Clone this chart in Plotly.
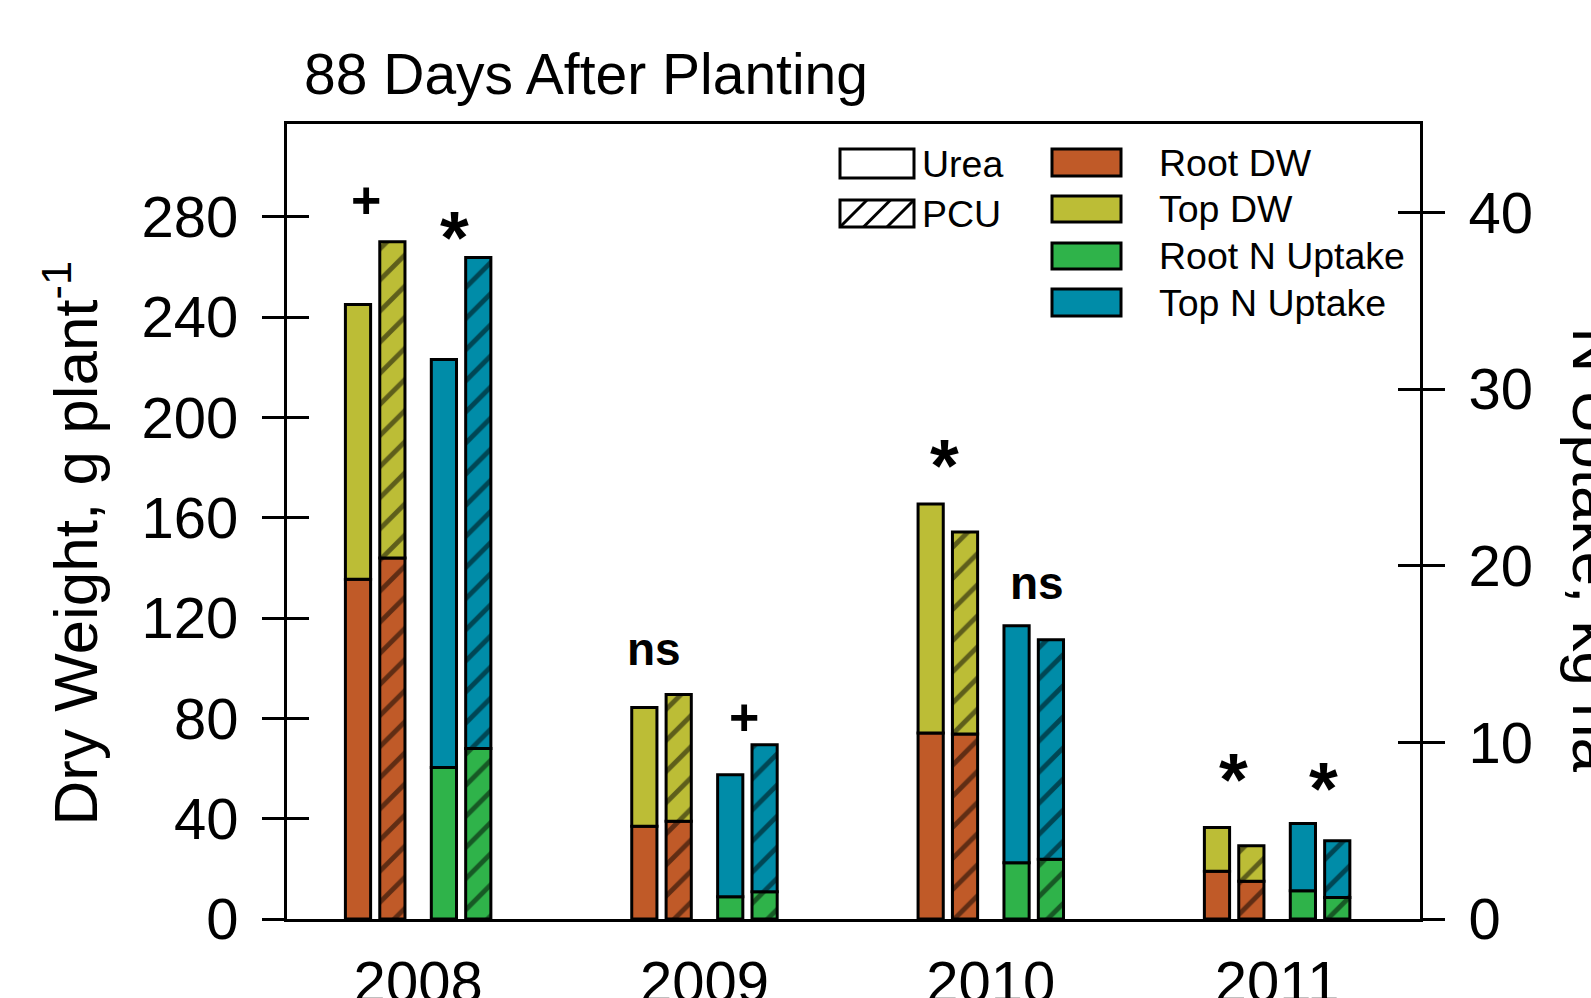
import plotly.graph_objects as go

# ---------------- data ----------------
years = ["2008", "2009", "2010", "2011"]
# Dry weight, g plant-1 (stacked segments: root at bottom, top above)
root_dw_urea = [135.5, 37.0, 74.2, 19.0]
top_dw_urea = [109.5, 47.3, 91.3, 17.5]
root_dw_pcu = [143.9, 39.0, 73.8, 15.1]
top_dw_pcu = [126.1, 50.5, 80.5, 14.1]
# N uptake, kg ha-1 (stacked segments)
root_n_urea = [8.58, 1.26, 3.18, 1.60]
top_n_urea = [23.09, 6.90, 13.42, 3.80]
root_n_pcu = [9.65, 1.54, 3.38, 1.21]
top_n_pcu = [27.80, 8.32, 12.42, 3.22]
# significance labels (Urea vs PCU)
sig_dw = ["+", "ns", "*", "*"]
sig_n = ["*", "+", "ns", "*"]
dw_ticks = [0, 40, 80, 120, 160, 200, 240, 280]
n_ticks = [0, 10, 20, 30, 40]

# ---------------- style ----------------
FONT = "Liberation Sans, Arial, sans-serif"
C_ROOT_DW = "#C05A28"
C_TOP_DW = "#BCBD36"
C_ROOT_N = "#2FB34A"
C_TOP_N = "#008CA8"
W = 0.088
OFF = {"dw_u": -0.210, "dw_p": -0.090, "n_u": 0.090, "n_p": 0.210}

WID, HEI = 1591, 998
ML, MR, MT, MB = 287, 171, 124, 79
PW, PH = WID - ML - MR, HEI - MT - MB


def px_x(px):
    return (px - ML) / PW


def px_y(py):
    return (HEI - MB - py) / PH


def bar(vals, base, color, center, hatched, yaxis):
    if hatched:
        pattern = dict(shape="/", fgcolor="black", bgcolor=color, size=22,
                       solidity=0.22, fillmode="overlay")
    else:
        pattern = dict(shape="")
    return go.Bar(
        x=years, y=vals, base=base, offset=center - W / 2, width=W,
        marker=dict(color=color, line=dict(color="black", width=3), pattern=pattern),
        yaxis=yaxis, showlegend=False, hoverinfo="skip",
    )


fig = go.Figure()
fig.add_trace(bar(root_dw_urea, None, C_ROOT_DW, OFF["dw_u"], False, "y"))
fig.add_trace(bar(top_dw_urea, root_dw_urea, C_TOP_DW, OFF["dw_u"], False, "y"))
fig.add_trace(bar(root_dw_pcu, None, C_ROOT_DW, OFF["dw_p"], True, "y"))
fig.add_trace(bar(top_dw_pcu, root_dw_pcu, C_TOP_DW, OFF["dw_p"], True, "y"))
fig.add_trace(bar(root_n_urea, None, C_ROOT_N, OFF["n_u"], False, "y2"))
fig.add_trace(bar(top_n_urea, root_n_urea, C_TOP_N, OFF["n_u"], False, "y2"))
fig.add_trace(bar(root_n_pcu, None, C_ROOT_N, OFF["n_p"], True, "y2"))
fig.add_trace(bar(top_n_pcu, root_n_pcu, C_TOP_N, OFF["n_p"], True, "y2"))
# helper traces for inner tick halves
fig.add_trace(go.Scatter(x=[], y=[], yaxis="y3", showlegend=False, hoverinfo="skip"))
fig.add_trace(go.Scatter(x=[], y=[], yaxis="y4", showlegend=False, hoverinfo="skip"))

tickfont = dict(family=FONT, size=58, color="black")
fig.update_layout(
    width=WID, height=HEI,
    margin=dict(l=ML, r=MR, t=MT, b=MB),
    plot_bgcolor="white", paper_bgcolor="white",
    barmode="overlay",
    font=dict(family=FONT, color="black"),
    title=dict(text="88 Days After Planting", font=dict(family=FONT, size=57, color="black"),
               x=304 / WID, xanchor="left", xref="container",
               y=1 - 74 / HEI, yanchor="middle", yref="container", automargin=False),
    xaxis=dict(type="category", range=[-0.458, 3.499], showline=True, linewidth=3,
               linecolor="black", mirror=True, ticks="", showgrid=False, zeroline=False,
               tickfont=tickfont, ticklabelstandoff=10, automargin=False),
    yaxis=dict(range=[0, 317], tickvals=dw_ticks, showline=True, linewidth=3,
               linecolor="black", ticks="outside", ticklen=22, tickwidth=3,
               tickcolor="black", showgrid=False, zeroline=False, tickfont=tickfont,
               ticklabelstandoff=12, automargin=False),
    yaxis2=dict(range=[0, 45], tickvals=n_ticks, overlaying="y", side="right",
                showline=True, linewidth=3, linecolor="black", ticks="outside",
                ticklen=22, tickwidth=3, tickcolor="black", showgrid=False,
                zeroline=False, tickfont=tickfont, ticklabelstandoff=12, automargin=False),
    yaxis3=dict(range=[0, 317], tickvals=dw_ticks, overlaying="y", side="left",
                showline=False, ticks="inside", ticklen=22, tickwidth=3,
                tickcolor="black", showticklabels=False, showgrid=False, zeroline=False,
                automargin=False),
    yaxis4=dict(range=[0, 45], tickvals=n_ticks, overlaying="y", side="right",
                showline=False, ticks="inside", ticklen=22, tickwidth=3,
                tickcolor="black", showticklabels=False, showgrid=False, zeroline=False,
                automargin=False),
)

annotations = []
# significance markers
sig_dx_dw = [-0.183, -0.177, -0.161, -0.151]
sig_dx_n = [0.128, 0.137, 0.161, 0.163]
sig_up_dw = [42, 44, 47, 57]
sig_up_n = [29, 28, 41, 44]
sym_size = {"+": 52, "*": 74, "ns": 46}
sym_corr = {"+": 0, "*": -9, "ns": 2}
for i in range(4):
    top_u = root_dw_urea[i] + top_dw_urea[i]
    top_p = root_dw_pcu[i] + top_dw_pcu[i]
    s = sig_dw[i]
    annotations.append(dict(x=i + sig_dx_dw[i], y=max(top_u, top_p), xref="x", yref="y",
                            text=f"<b>{s}</b>", showarrow=False, yanchor="middle",
                            xanchor="center", yshift=sig_up_dw[i] + sym_corr[s],
                            font=dict(family=FONT, size=sym_size[s], color="black")))
    top_u = root_n_urea[i] + top_n_urea[i]
    top_p = root_n_pcu[i] + top_n_pcu[i]
    s = sig_n[i]
    annotations.append(dict(x=i + sig_dx_n[i], y=max(top_u, top_p), xref="x", yref="y2",
                            text=f"<b>{s}</b>", showarrow=False, yanchor="middle",
                            xanchor="center", yshift=sig_up_n[i] + sym_corr[s],
                            font=dict(family=FONT, size=sym_size[s], color="black")))

# axis titles
annotations.append(dict(text="Dry Weight, g plant<sup>-1</sup>", textangle=-90,
                        xref="paper", yref="paper", x=0, y=px_y(828), xanchor="right",
                        yanchor="bottom", xshift=111 - ML, showarrow=False,
                        font=dict(family=FONT, size=62, color="black")))
annotations.append(dict(text="N Uptake, kg ha<sup>-1</sup>", textangle=90,
                        xref="paper", yref="paper", x=1, y=px_y(325), xanchor="left",
                        yanchor="top", xshift=1559 - (WID - MR), showarrow=False,
                        font=dict(family=FONT, size=62, color="black")))

# legend
shapes = []
LEG_FONT = dict(family=FONT, size=37.5, color="black")
shapes.append(dict(type="rect", xref="paper", yref="paper", x0=px_x(840), x1=px_x(914),
                   y0=px_y(178), y1=px_y(149), line=dict(color="black", width=3),
                   fillcolor="white"))
annotations.append(dict(text="Urea", xref="paper", yref="paper", x=px_x(920), y=px_y(164),
                        xanchor="left", yanchor="middle", showarrow=False, font=LEG_FONT))
shapes.append(dict(type="rect", xref="paper", yref="paper", x0=px_x(840), x1=px_x(914),
                   y0=px_y(227), y1=px_y(200), line=dict(color="black", width=3),
                   fillcolor="white"))
for x0 in (840, 863.5, 887):
    shapes.append(dict(type="line", xref="paper", yref="paper", x0=px_x(x0), x1=px_x(x0 + 27),
                       y0=px_y(227), y1=px_y(200), line=dict(color="black", width=3)))
annotations.append(dict(text="PCU", xref="paper", yref="paper", x=px_x(920), y=px_y(214),
                        xanchor="left", yanchor="middle", showarrow=False, font=LEG_FONT))

leg_items = [("Root DW", C_ROOT_DW, 149, 176), ("Top DW", C_TOP_DW, 196, 222),
             ("Root N Uptake", C_ROOT_N, 243, 269), ("Top N Uptake", C_TOP_N, 289, 316)]
for name, col, t, b in leg_items:
    shapes.append(dict(type="rect", xref="paper", yref="paper", x0=px_x(1052), x1=px_x(1121),
                       y0=px_y(b), y1=px_y(t), line=dict(color="black", width=3),
                       fillcolor=col))
    annotations.append(dict(text=name, xref="paper", yref="paper", x=px_x(1157),
                            y=px_y((t + b) / 2), xanchor="left", yanchor="middle",
                            showarrow=False, font=LEG_FONT))

fig.update_layout(annotations=annotations, shapes=shapes)

fig.write_html("out.html", config={"displayModeBar": False},
               post_script="document.body.style.margin='0';document.body.style.overflow='hidden';")
